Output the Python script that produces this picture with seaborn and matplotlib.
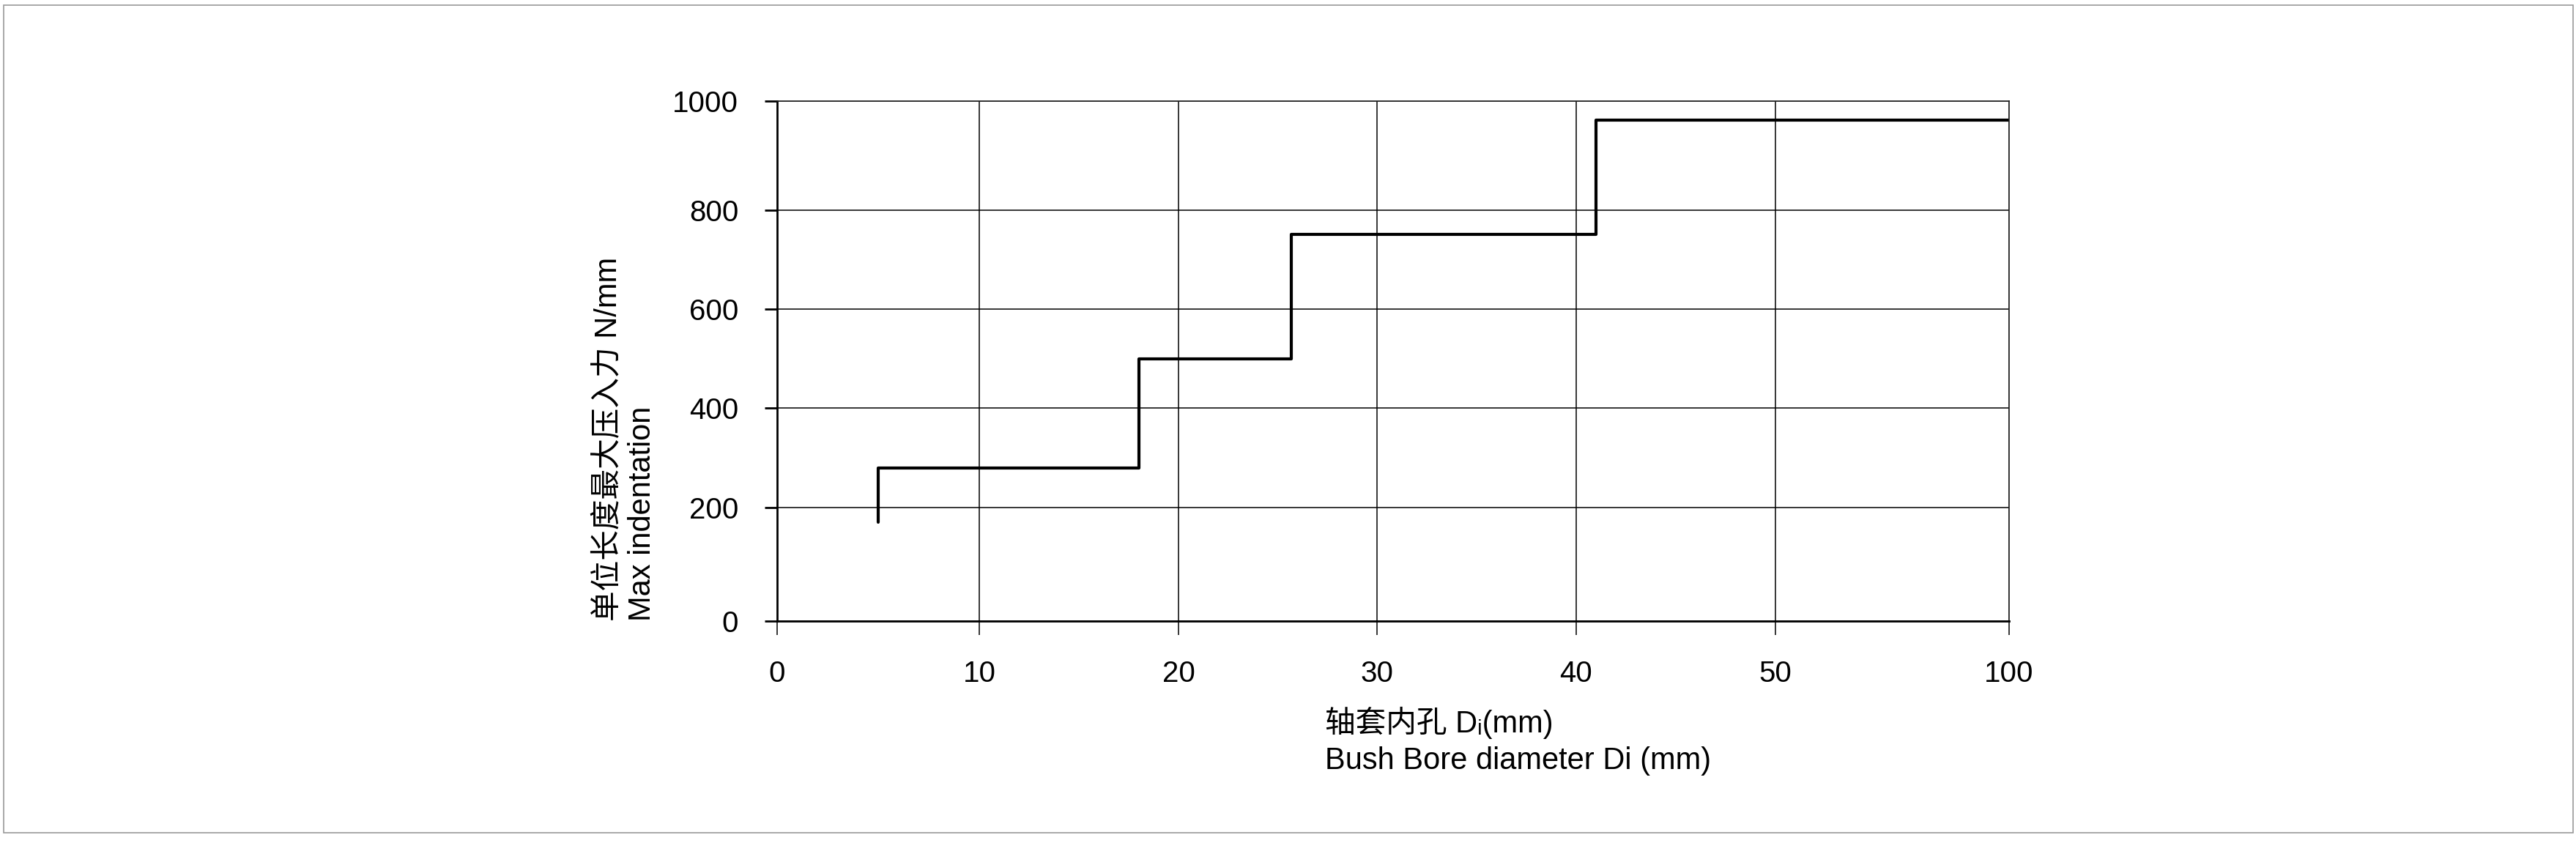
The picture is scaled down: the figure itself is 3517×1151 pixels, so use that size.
import numpy as np
import pandas as pd
import matplotlib
matplotlib.use("Agg")
import matplotlib.pyplot as plt
import seaborn as sns
from matplotlib.patches import Rectangle

# step curve: bush bore diameter (mm) -> max indentation force per length (N/mm)
bore_mm = [5, 5, 18, 25.7, 41, 100]
max_force = [175, 280, 500, 750, 965, 965]

x_ticks = [0, 10, 20, 30, 40, 50, 100]
y_ticks = [0, 200, 400, 600, 800, 1000]

# the original drawing is not evenly spaced: where each tick sits (pixels)
x_pos = [0, 276, 548, 819, 1091, 1363, 1682]
y_pos = [0, 155, 291, 427, 562, 711]

ylabel_txt = "单位长度最大压入力 N/mm\nMax indentation"
xlabel_txt = "轴套内孔 D\u1d62(mm)\nBush Bore diameter Di (mm)"

sns.set_theme(style="white")
plt.rcParams["font.family"] = ["Liberation Sans", "Noto Sans CJK SC", "DejaVu Sans"]
plt.rcParams["text.color"] = "black"
plt.rcParams["axes.labelcolor"] = "black"
plt.rcParams["xtick.color"] = "black"
plt.rcParams["ytick.color"] = "black"

W, H = 3517, 1151
fig = plt.figure(figsize=(W / 100, H / 100), dpi=100)
ax = fig.add_axes([1061 / W, 1 - 848 / H, 1682 / W, 710 / H])

ax.set_xscale("function", functions=(lambda v: np.interp(v, x_ticks, x_pos),
                                     lambda p: np.interp(p, x_pos, x_ticks)))
ax.set_yscale("function", functions=(lambda v: np.interp(v, y_ticks, y_pos),
                                     lambda p: np.interp(p, y_pos, y_ticks)))

df = pd.DataFrame({"bore": bore_mm, "force": max_force})
sns.lineplot(data=df, x="bore", y="force", estimator=None, sort=False,
             drawstyle="steps-post", color="black", lw=3, ax=ax)

ax.set_xlim(0, 100)
ax.set_ylim(0, 1000)
ax.set_xticks(x_ticks)
ax.set_yticks(y_ticks)
ax.set_xticklabels([str(t) for t in x_ticks])
ax.set_yticklabels([str(t) for t in y_ticks])

ax.grid(True, color="black", lw=1.1)
ax.set_axisbelow(True)
for side in ["left", "bottom"]:
    ax.spines[side].set_linewidth(2)
    ax.spines[side].set_color("black")
for side in ["top", "right"]:
    ax.spines[side].set_linewidth(1.2)
    ax.spines[side].set_color("#222222")

ax.tick_params(axis="y", left=True, direction="out", length=12, width=2,
               pad=26, labelsize=29)
ax.tick_params(axis="x", bottom=True, direction="out", length=14, width=1.1,
               pad=24, labelsize=29)

ax.set_ylabel(ylabel_txt, loc="bottom", fontsize=30)
ax.yaxis.set_label_coords(-0.0975, 0)
ax.set_xlabel(xlabel_txt, fontsize=30, ha="left", multialignment="left",
              linespacing=1.3)
ax.xaxis.set_label_coords(0.445, -0.165)

fig.add_artist(Rectangle((4.5 / W, 14 / H), 1 - 9 / W, 1 - 21 / H,
                         transform=fig.transFigure, fill=False,
                         edgecolor="#9a9a9a", lw=1.2))

fig.savefig("out.png", dpi=100)
